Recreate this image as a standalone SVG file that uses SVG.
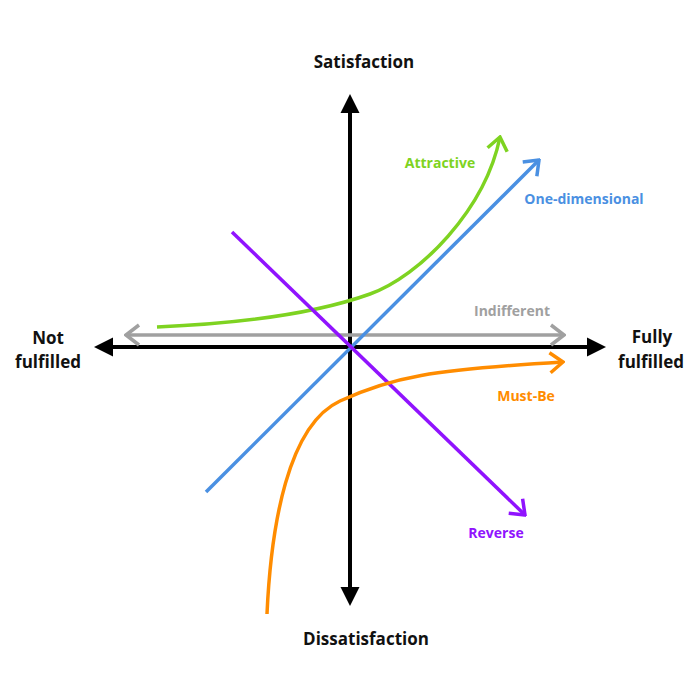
<svg xmlns="http://www.w3.org/2000/svg" width="700" height="700" viewBox="0 0 700 700">
<style>
.axis{stroke:#000;stroke-width:4;fill:none}
.head{fill:#000}
.c{fill:none;stroke-width:3.5;stroke-linecap:butt}
.lbl{font-family:"Open Sans","Liberation Sans",sans-serif;font-weight:700;text-anchor:middle}
.big{font-size:17px;fill:#111}
.small{font-size:14px}
</style>
<defs>
<marker id="mg" markerUnits="userSpaceOnUse" viewBox="-16 -12 18 24" refX="0" refY="0" markerWidth="18" markerHeight="24" orient="auto-start-reverse"><path d="M-13,-10 L0,0 L-13,10" fill="none" stroke="#a0a0a0" stroke-width="3.5"/></marker>
<marker id="mgr" markerUnits="userSpaceOnUse" viewBox="-16 -12 18 24" refX="0" refY="0" markerWidth="18" markerHeight="24" orient="auto"><path d="M-13,-10 L0,0 L-13,10" fill="none" stroke="#7ed321" stroke-width="3.5"/></marker>
<marker id="mb" markerUnits="userSpaceOnUse" viewBox="-16 -12 18 24" refX="0" refY="0" markerWidth="18" markerHeight="24" orient="auto"><path d="M-13,-10 L0,0 L-13,10" fill="none" stroke="#4a90e2" stroke-width="3.5"/></marker>
<marker id="mp" markerUnits="userSpaceOnUse" viewBox="-16 -12 18 24" refX="0" refY="0" markerWidth="18" markerHeight="24" orient="auto"><path d="M-13,-10 L0,0 L-13,10" fill="none" stroke="#9013fe" stroke-width="3.5"/></marker>
<marker id="mo" markerUnits="userSpaceOnUse" viewBox="-16 -12 18 24" refX="0" refY="0" markerWidth="18" markerHeight="24" orient="auto"><path d="M-13,-10 L0,0 L-13,10" fill="none" stroke="#ff8c00" stroke-width="3.5"/></marker>
</defs>
<rect width="700" height="700" fill="#fff"/>
<g id="axes">
<line class="axis" x1="112" y1="347" x2="588" y2="347"/>
<line class="axis" x1="350" y1="112" x2="350" y2="588"/>
<polygon class="head" points="94,347 113,337.5 113,356.5"/>
<polygon class="head" points="606,347 587,337.5 587,356.5"/>
<polygon class="head" points="350,94 340.5,113 359.5,113"/>
<polygon class="head" points="350,606 340.5,587 359.5,587"/>
</g>
<g id="connectors">
<line id="indifferent" class="c" stroke="#a0a0a0" x1="126" y1="335" x2="564" y2="335" marker-start="url(#mg)" marker-end="url(#mg)"/>
<path id="attractive" class="c" stroke="#7ed321" d="M157,327 C250,323 320,312 370,294 S485,210 500,137" marker-end="url(#mgr)"/>
<line id="onedim" class="c" stroke="#4a90e2" x1="206" y1="492" x2="539" y2="160" marker-end="url(#mb)"/>
<line id="reverse" class="c" stroke="#9013fe" x1="232" y1="232" x2="525" y2="515" marker-end="url(#mp)"/>
<path id="mustbe" class="c" stroke="#ff8c00" d="M267,614 C271,525 288,425 340,401 S430,370 563,362" marker-end="url(#mo)"/>
</g>
<g id="labels">
<text class="lbl big" x="364" y="68">Satisfaction</text>
<text class="lbl big" x="366" y="645">Dissatisfaction</text>
<text class="lbl big" x="48" y="344">Not</text>
<text class="lbl big" x="48" y="368">fulfilled</text>
<text class="lbl big" x="652" y="343">Fully</text>
<text class="lbl big" x="651" y="368">fulfilled</text>
<text class="lbl small" x="440" y="168" fill="#7ed321">Attractive</text>
<text class="lbl small" x="584" y="204" fill="#4a90e2">One-dimensional</text>
<text class="lbl small" x="512" y="316" fill="#a0a0a0">Indifferent</text>
<text class="lbl small" x="526" y="401" fill="#ff8c00">Must-Be</text>
<text class="lbl small" x="496" y="538" fill="#9013fe">Reverse</text>
</g>
</svg>
